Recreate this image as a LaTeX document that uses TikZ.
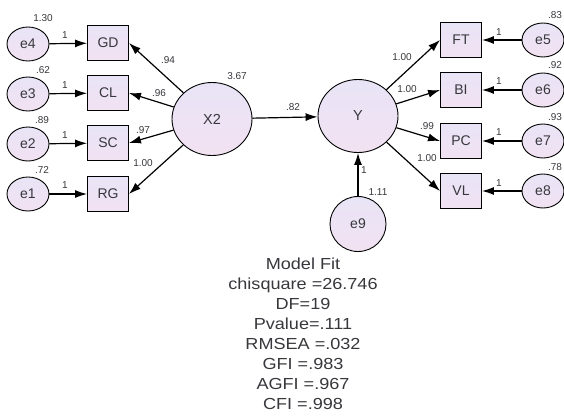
\documentclass[tikz,border=0pt]{standalone}
\usepackage{fontspec}
\setmainfont{Liberation Sans}
\newfontfamily\fitfont[FakeStretch=1.13]{Liberation Sans}
\usetikzlibrary{shapes.geometric,arrows.meta}
\definecolor{boxtop}{RGB}{232,228,246}
\definecolor{boxbot}{RGB}{242,226,242}
\definecolor{inktext}{RGB}{55,55,60}

\begin{document}
\begin{tikzpicture}[x=1pt, y=1pt, >={Latex[length=12pt,width=8pt]}, line width=1.2pt,
    obsbox/.style={draw, rectangle, line width=0.9pt, minimum width=41pt, minimum height=35pt,
        top color=boxtop, bottom color=boxbot, text=inktext, font=\fontsize{14}{16}\selectfont},
    errnode/.style={draw, ellipse, line width=0.9pt, minimum width=42pt, minimum height=34pt,
        top color=boxtop, bottom color=boxbot, text=inktext, font=\fontsize{14}{16}\selectfont},
    latnode/.style={draw, ellipse, line width=0.9pt, minimum width=80pt, minimum height=73pt,
        top color=boxtop, bottom color=boxbot, text=inktext, font=\fontsize{14.5}{16}\selectfont},
    est/.style={text=inktext, inner sep=0pt, font=\fontsize{10}{12}\selectfont}]
    \useasboundingbox (0,0) rectangle (564,-415);

    % Latent variables
    \node[latnode] (X2) at (212,-119) {X2};
    \node[latnode] (Y) at (358,-116) {Y};
    \node[errnode, minimum width=56pt, minimum height=55pt] (e9) at (358,-224) {e9};

    % Indicators of X2
    \node[obsbox] (GD) at (108,-43) {GD};
    \node[obsbox] (CL) at (108,-93) {CL};
    \node[obsbox] (SC) at (108,-143) {SC};
    \node[obsbox] (RG) at (108,-194) {RG};
    \node[errnode] (e4) at (28,-44) {e4};
    \node[errnode] (e3) at (28,-94) {e3};
    \node[errnode] (e2) at (28,-144) {e2};
    \node[errnode] (e1) at (28,-194) {e1};

    % Indicators of Y
    \node[obsbox] (FT) at (461,-40) {FT};
    \node[obsbox] (BI) at (461,-90) {BI};
    \node[obsbox] (PC) at (461,-141) {PC};
    \node[obsbox] (VL) at (461,-191) {VL};
    \node[errnode] (e5) at (543,-40) {e5};
    \node[errnode] (e6) at (543,-90) {e6};
    \node[errnode] (e7) at (543,-141) {e7};
    \node[errnode] (e8) at (543,-191) {e8};

    % Paths
    \draw[->] (X2) -- (GD.east);
    \draw[->] (X2) -- (CL.east);
    \draw[->] (X2) -- (SC.east);
    \draw[->] (X2) -- (RG.east);
    \draw[->] (X2) -- (Y);
    \draw[->] (e9) -- (Y);
    \draw[->] (Y) -- (FT.west);
    \draw[->] (Y) -- (BI.west);
    \draw[->] (Y) -- (PC.west);
    \draw[->] (Y) -- (VL.west);
    \draw[->] (e4) -- (GD);
    \draw[->] (e3) -- (CL);
    \draw[->] (e2) -- (SC);
    \draw[->] (e1) -- (RG);
    \draw[->] (e5) -- (FT);
    \draw[->] (e6) -- (BI);
    \draw[->] (e7) -- (PC);
    \draw[->] (e8) -- (VL);

    % Estimates, left
    \node[est] (v4) at (43,-18) {1.30};
    \node[est] (v3) at (43,-70) {.62};
    \node[est] (v2) at (42,-120) {.89};
    \node[est] (v1) at (42,-170) {.72};
    \node[est] (w4) at (65,-35) {1};
    \node[est] (w3) at (65,-85) {1};
    \node[est] (w2) at (65,-135) {1};
    \node[est] (w1) at (65,-185) {1};
    \node[est] (lGD) at (168,-60) {.94};
    \node[est] (lCL) at (159,-93) {.96};
    \node[est] (lSC) at (143,-130) {.97};
    \node[est] (lRG) at (143,-163) {1.00};
    \node[est] (vX2) at (237,-76) {3.67};
    \node[est] (bY) at (293,-107) {.82};

    % Estimates, right
    \node[est] (lFT) at (402,-57) {1.00};
    \node[est] (lBI) at (407,-89) {1.00};
    \node[est] (lPC) at (427,-126) {.99};
    \node[est] (lVL) at (427,-158) {1.00};
    \node[est] (w5) at (499,-32) {1};
    \node[est] (w6) at (499,-81) {1};
    \node[est] (w7) at (499,-132) {1};
    \node[est] (w8) at (499,-183) {1};
    \node[est] (v5) at (555,-15) {.83};
    \node[est] (v6) at (555,-65) {.92};
    \node[est] (v7) at (555,-117) {.93};
    \node[est] (v8) at (555,-167) {.78};
    \node[est] (v9) at (378,-192) {1.11};
    \node[est] (w9) at (364,-170) {1};

    % Fit summary
    \node[text=inktext, align=center, font=\fitfont\fontsize{16}{20}\selectfont] (fit) at (303,-334)
        {Model Fit\\chisquare =26.746\\DF=19\\Pvalue=.111\\RMSEA =.032\\GFI =.983\\AGFI =.967\\CFI =.998};
\end{tikzpicture}
\end{document}
